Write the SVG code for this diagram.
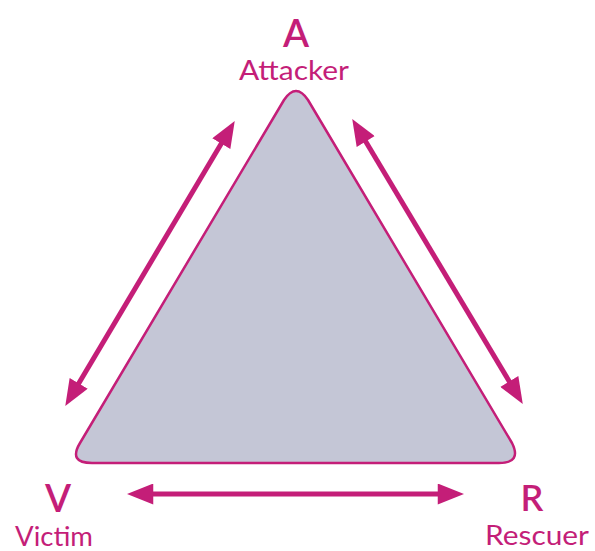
<svg xmlns="http://www.w3.org/2000/svg" width="595" height="551" viewBox="0 0 595 551">
<style>
.lbl{font-family:"Lato","Liberation Sans",sans-serif;fill:#C41E78;text-anchor:middle;font-size:26px}
.big{font-family:"Lato","Liberation Sans",sans-serif;fill:#C41E78;text-anchor:middle;font-weight:600}
.conn{stroke:#C41E78;stroke-width:5;fill:none;marker-start:url(#ah);marker-end:url(#ah)}
</style>
<defs>
<marker id="ah" viewBox="0 0 10 8" refX="2" refY="4" markerWidth="5.4" markerHeight="4.2" orient="auto-start-reverse" markerUnits="strokeWidth">
<path d="M0,0 L10,4 L0,8 Z" fill="#C41E78"/>
</marker>
</defs>
<rect width="595" height="551" fill="#fff"/>
<g id="triangle">
<path d="M284,100 Q296,82 308,100 L512,443 Q522,463 499,463 L92,463 Q68,463 80,443 Z" fill="#C4C6D6" stroke="#C41E78" stroke-width="2.5" stroke-linejoin="round"/>
</g>
<g id="connectors">
<line class="conn" x1="224" y1="139" x2="76" y2="388"/>
<line class="conn" x1="363" y1="137" x2="512" y2="386"/>
<line class="conn" x1="148" y1="494" x2="443" y2="494"/>
</g>
<g id="attacker">
<text class="big" x="296" y="47" font-size="38">A</text>
<text class="lbl" x="294" y="80" textLength="110" lengthAdjust="spacingAndGlyphs">Attacker</text>
</g>
<g id="victim">
<text class="big" x="58" y="512" font-size="38">V</text>
<text class="lbl" x="54" y="546" textLength="78" lengthAdjust="spacingAndGlyphs">Victim</text>
</g>
<g id="rescuer">
<text class="big" x="532" y="511" font-size="36">R</text>
<text class="lbl" x="537" y="545" textLength="104" lengthAdjust="spacingAndGlyphs">Rescuer</text>
</g>
</svg>
